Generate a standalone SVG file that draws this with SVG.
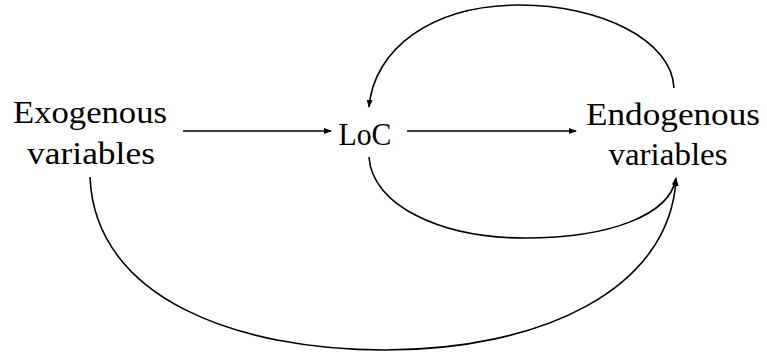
<svg xmlns="http://www.w3.org/2000/svg" width="767" height="354" viewBox="0 0 767 354">
  <style>
    .lbl { font-family: "Liberation Serif", "Times New Roman", serif; font-size: 32px; fill: #000; text-anchor: middle; }
    .edge { fill: none; stroke: #000; stroke-width: 1.6; marker-end: url(#head); }
  </style>
  <defs>
    <marker id="head" markerUnits="userSpaceOnUse" markerWidth="8" markerHeight="6" refX="7" refY="3" orient="auto">
      <path d="M0,0 L8,3 L0,6 z" fill="#000"/>
    </marker>
  </defs>
  <rect width="767" height="354" fill="#fff"/>

  <g id="exogenous">
    <text class="lbl" x="90" y="123" textLength="154" lengthAdjust="spacingAndGlyphs">Exogenous</text>
    <text class="lbl" x="91" y="164" textLength="128" lengthAdjust="spacingAndGlyphs">variables</text>
  </g>
  <g id="loc">
    <text class="lbl" x="365" y="145" textLength="53" lengthAdjust="spacingAndGlyphs">LoC</text>
  </g>
  <g id="endogenous">
    <text class="lbl" x="673" y="125" textLength="174" lengthAdjust="spacingAndGlyphs">Endogenous</text>
    <text class="lbl" x="668" y="165" textLength="119" lengthAdjust="spacingAndGlyphs">variables</text>
  </g>

  <g id="connectors">
    <path class="edge" d="M183,131 L331,131"/>
    <path class="edge" d="M407,131 L576,131"/>
    <path class="edge" d="M674,88 C672,40 600,5 520,5 C430,5 374,50 369,107"/>
    <path class="edge" d="M369,157 C372,205 440,238 525,238 C610,238 670,215 676,178"/>
    <path class="edge" d="M90,177 C95,300 240,350 385,350 C540,350 670,290 676,179"/>
  </g>
</svg>
